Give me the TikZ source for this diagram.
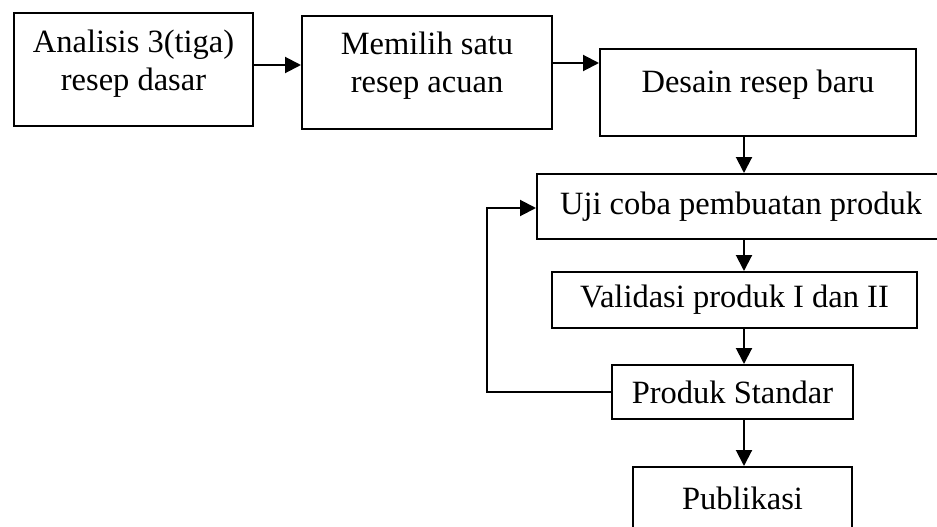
\documentclass[tikz,border=0pt]{standalone}
\usepackage{fontspec}
\setmainfont{Liberation Serif}
\usepackage{tikz}
\usetikzlibrary{positioning, calc, arrows.meta}
\tikzset{>={Triangle[length=16pt,width=16pt]}}

\begin{document}
\begin{tikzpicture}[x=1pt,y=-1pt,line width=2pt,
    box/.style={draw,inner sep=0pt,font=\fontsize{32.5}{38}\selectfont},
    txt/.style={inner sep=0pt,align=center,font=\fontsize{32.5}{38}\selectfont}]
    \useasboundingbox (0,0) rectangle (937,527);
    % boxes of the top row
    \node[box,minimum width=239,minimum height=113] (analisis) at (133.5,69.5) {};
    \node[txt] (analisis-t) at (133.5,64) {Analisis 3(tiga)\\resep dasar};
    \node[box,minimum width=250,minimum height=113] (acuan) at (427,72.5) {};
    \node[txt] (acuan-t) at (427,66) {Memilih satu\\resep acuan};
    \node[box,minimum width=316,minimum height=87] (desain) at (758,92.5) {};
    \node[txt] (desain-t) at (758,85) {Desain resep baru};
    % column
    \node[box,minimum width=408,minimum height=65] (uji) at (741,206.5) {Uji coba pembuatan produk};
    \node[box,minimum width=365,minimum height=56] (validasi) at (734.5,300) {Validasi produk I dan II};
    \node[box,minimum width=241,minimum height=54] (standar) at (732.5,392) {Produk Standar};
    \node[box,minimum width=219,minimum height=63] (publikasi) at (742.5,498.5) {Publikasi};
    \coordinate (spine) at (744,0);
    \path[->]
        ([yshift=4.5pt]analisis.east) edge ([yshift=4.5pt]analisis.east -| acuan.west)
        ([yshift=9.5pt]acuan.east)    edge ([yshift=9.5pt]acuan.east -| desain.west)
        (desain.south -| spine)       edge (uji.north -| spine)
        (uji.south -| spine)          edge (validasi.north -| spine)
        (validasi.south -| spine)     edge (standar.north -| spine)
        (standar.south -| spine)      edge (publikasi.north -| spine)
    ;
    \draw[->] (standar.west) -- ++(-124,0) |- ([yshift=-1.5pt]uji.west);
\end{tikzpicture}
\end{document}
